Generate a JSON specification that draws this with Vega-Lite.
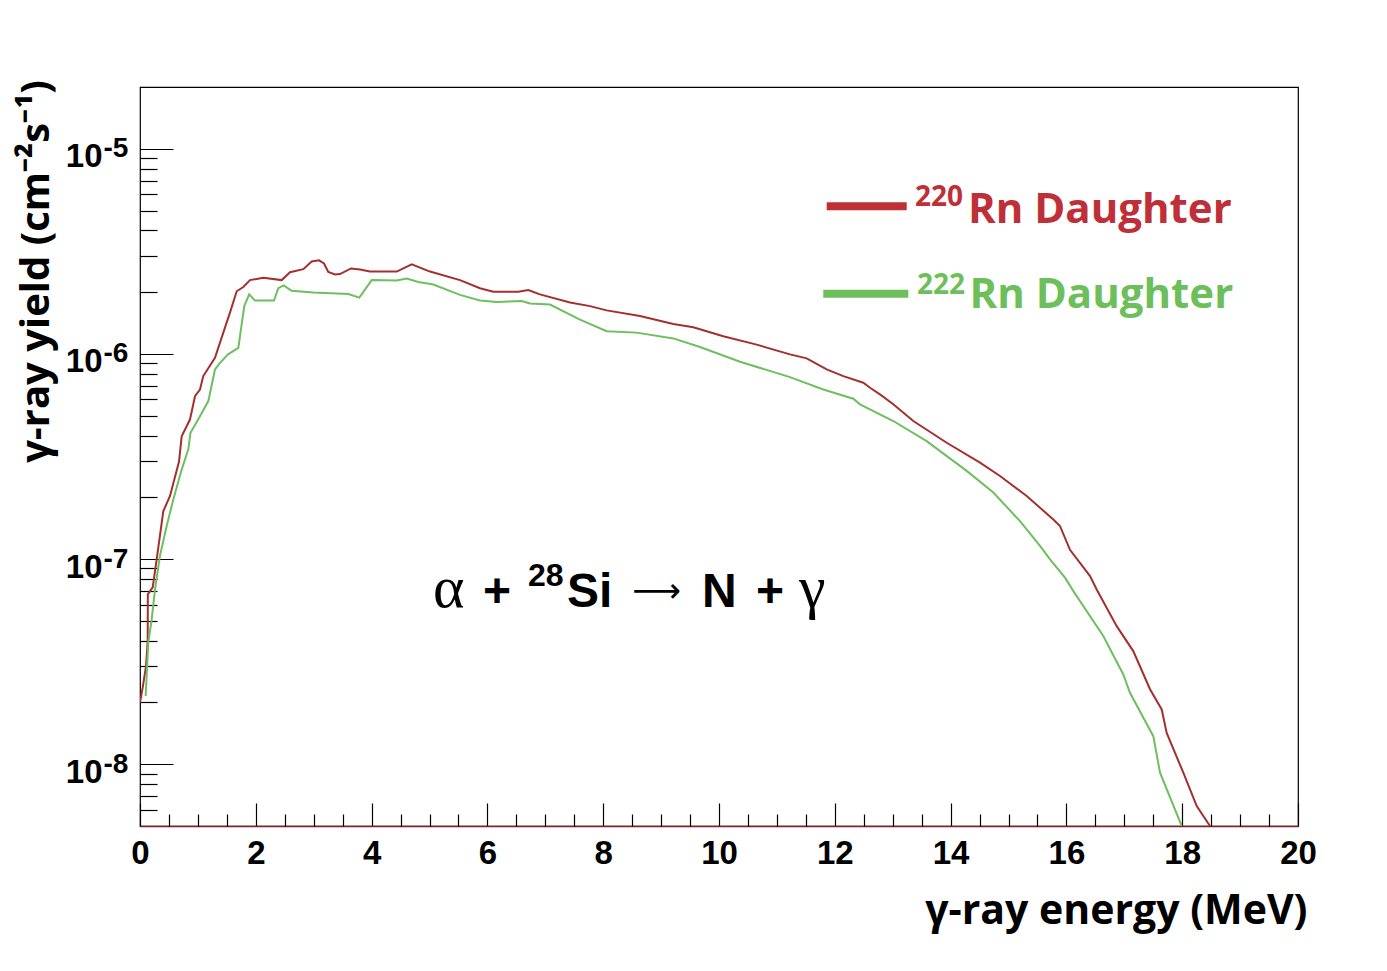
{
  "$schema": "https://vega.github.io/schema/vega-lite/v6.json",
  "width": 1158,
  "height": 739,
  "autosize": "none",
  "padding": {"left": 140, "top": 87, "right": 89, "bottom": 145},
  "background": "white",
  "config": {
    "view": {"stroke": "black", "strokeWidth": 1.2},
    "axis": {"grid": false, "tickColor": "black", "tickWidth": 1.2}
  },
  "datasets": {
    "curves": [
      {"series": "220Rn", "energy": 0, "yield": 2.00e-8},
      {"series": "220Rn", "energy": 0.047, "yield": 2.37e-8},
      {"series": "220Rn", "energy": 0.104, "yield": 3.01e-8},
      {"series": "220Rn", "energy": 0.133, "yield": 3.98e-8},
      {"series": "220Rn", "energy": 0.135, "yield": 6.73e-8},
      {"series": "220Rn", "energy": 0.219, "yield": 7.28e-8},
      {"series": "220Rn", "energy": 0.288, "yield": 9.97e-8},
      {"series": "220Rn", "energy": 0.402, "yield": 1.71e-7},
      {"series": "220Rn", "energy": 0.518, "yield": 2.03e-7},
      {"series": "220Rn", "energy": 0.674, "yield": 2.99e-7},
      {"series": "220Rn", "energy": 0.720, "yield": 3.97e-7},
      {"series": "220Rn", "energy": 0.864, "yield": 4.80e-7},
      {"series": "220Rn", "energy": 0.950, "yield": 6.22e-7},
      {"series": "220Rn", "energy": 1.036, "yield": 6.71e-7},
      {"series": "220Rn", "energy": 1.093, "yield": 7.80e-7},
      {"series": "220Rn", "energy": 1.295, "yield": 9.58e-7},
      {"series": "220Rn", "energy": 1.439, "yield": 1.27e-6},
      {"series": "220Rn", "energy": 1.554, "yield": 1.59e-6},
      {"series": "220Rn", "energy": 1.670, "yield": 2.02e-6},
      {"series": "220Rn", "energy": 1.784, "yield": 2.12e-6},
      {"series": "220Rn", "energy": 1.900, "yield": 2.29e-6},
      {"series": "220Rn", "energy": 2.130, "yield": 2.35e-6},
      {"series": "220Rn", "energy": 2.447, "yield": 2.29e-6},
      {"series": "220Rn", "energy": 2.591, "yield": 2.50e-6},
      {"series": "220Rn", "energy": 2.820, "yield": 2.59e-6},
      {"series": "220Rn", "energy": 2.965, "yield": 2.82e-6},
      {"series": "220Rn", "energy": 3.092, "yield": 2.86e-6},
      {"series": "220Rn", "energy": 3.178, "yield": 2.76e-6},
      {"series": "220Rn", "energy": 3.252, "yield": 2.51e-6},
      {"series": "220Rn", "energy": 3.368, "yield": 2.44e-6},
      {"series": "220Rn", "energy": 3.454, "yield": 2.45e-6},
      {"series": "220Rn", "energy": 3.644, "yield": 2.61e-6},
      {"series": "220Rn", "energy": 3.800, "yield": 2.58e-6},
      {"series": "220Rn", "energy": 3.972, "yield": 2.52e-6},
      {"series": "220Rn", "energy": 4.434, "yield": 2.52e-6},
      {"series": "220Rn", "energy": 4.693, "yield": 2.73e-6},
      {"series": "220Rn", "energy": 5.009, "yield": 2.52e-6},
      {"series": "220Rn", "energy": 5.527, "yield": 2.29e-6},
      {"series": "220Rn", "energy": 5.872, "yield": 2.09e-6},
      {"series": "220Rn", "energy": 6.102, "yield": 2.01e-6},
      {"series": "220Rn", "energy": 6.534, "yield": 2.01e-6},
      {"series": "220Rn", "energy": 6.706, "yield": 2.05e-6},
      {"series": "220Rn", "energy": 6.908, "yield": 1.95e-6},
      {"series": "220Rn", "energy": 7.427, "yield": 1.78e-6},
      {"series": "220Rn", "energy": 7.772, "yield": 1.71e-6},
      {"series": "220Rn", "energy": 8.060, "yield": 1.63e-6},
      {"series": "220Rn", "energy": 8.636, "yield": 1.53e-6},
      {"series": "220Rn", "energy": 9.211, "yield": 1.40e-6},
      {"series": "220Rn", "energy": 9.556, "yield": 1.35e-6},
      {"series": "220Rn", "energy": 10.074, "yield": 1.22e-6},
      {"series": "220Rn", "energy": 10.651, "yield": 1.11e-6},
      {"series": "220Rn", "energy": 11.226, "yield": 9.95e-7},
      {"series": "220Rn", "energy": 11.515, "yield": 9.51e-7},
      {"series": "220Rn", "energy": 11.860, "yield": 8.40e-7},
      {"series": "220Rn", "energy": 12.147, "yield": 7.79e-7},
      {"series": "220Rn", "energy": 12.492, "yield": 7.24e-7},
      {"series": "220Rn", "energy": 12.608, "yield": 6.84e-7},
      {"series": "220Rn", "energy": 12.781, "yield": 6.35e-7},
      {"series": "220Rn", "energy": 13.010, "yield": 5.68e-7},
      {"series": "220Rn", "energy": 13.356, "yield": 4.71e-7},
      {"series": "220Rn", "energy": 13.933, "yield": 3.69e-7},
      {"series": "220Rn", "energy": 14.508, "yield": 2.95e-7},
      {"series": "220Rn", "energy": 14.853, "yield": 2.54e-7},
      {"series": "220Rn", "energy": 15.314, "yield": 2.03e-7},
      {"series": "220Rn", "energy": 15.774, "yield": 1.56e-7},
      {"series": "220Rn", "energy": 15.889, "yield": 1.45e-7},
      {"series": "220Rn", "energy": 16.062, "yield": 1.11e-7},
      {"series": "220Rn", "energy": 16.408, "yield": 8.26e-8},
      {"series": "220Rn", "energy": 16.523, "yield": 7.11e-8},
      {"series": "220Rn", "energy": 16.869, "yield": 4.71e-8},
      {"series": "220Rn", "energy": 17.155, "yield": 3.56e-8},
      {"series": "220Rn", "energy": 17.444, "yield": 2.32e-8},
      {"series": "220Rn", "energy": 17.646, "yield": 1.85e-8},
      {"series": "220Rn", "energy": 17.732, "yield": 1.42e-8},
      {"series": "220Rn", "energy": 18.019, "yield": 9.10e-9},
      {"series": "220Rn", "energy": 18.251, "yield": 6.25e-9},
      {"series": "220Rn", "energy": 18.480, "yield": 5.0e-9},
      {"series": "222Rn", "energy": 0.098, "yield": 2.15e-8},
      {"series": "222Rn", "energy": 0.143, "yield": 3.92e-8},
      {"series": "222Rn", "energy": 0.202, "yield": 5.08e-8},
      {"series": "222Rn", "energy": 0.259, "yield": 7.11e-8},
      {"series": "222Rn", "energy": 0.345, "yield": 1.04e-7},
      {"series": "222Rn", "energy": 0.461, "yield": 1.45e-7},
      {"series": "222Rn", "energy": 0.575, "yield": 1.95e-7},
      {"series": "222Rn", "energy": 0.720, "yield": 2.73e-7},
      {"series": "222Rn", "energy": 0.834, "yield": 3.43e-7},
      {"series": "222Rn", "energy": 0.872, "yield": 4.13e-7},
      {"series": "222Rn", "energy": 1.007, "yield": 4.80e-7},
      {"series": "222Rn", "energy": 1.180, "yield": 5.89e-7},
      {"series": "222Rn", "energy": 1.295, "yield": 8.40e-7},
      {"series": "222Rn", "energy": 1.382, "yield": 9.05e-7},
      {"series": "222Rn", "energy": 1.520, "yield": 9.95e-7},
      {"series": "222Rn", "energy": 1.698, "yield": 1.07e-6},
      {"series": "222Rn", "energy": 1.801, "yield": 1.71e-6},
      {"series": "222Rn", "energy": 1.886, "yield": 1.95e-6},
      {"series": "222Rn", "energy": 1.986, "yield": 1.82e-6},
      {"series": "222Rn", "energy": 2.314, "yield": 1.82e-6},
      {"series": "222Rn", "energy": 2.389, "yield": 2.09e-6},
      {"series": "222Rn", "energy": 2.482, "yield": 2.16e-6},
      {"series": "222Rn", "energy": 2.620, "yield": 2.03e-6},
      {"series": "222Rn", "energy": 2.993, "yield": 1.99e-6},
      {"series": "222Rn", "energy": 3.598, "yield": 1.96e-6},
      {"series": "222Rn", "energy": 3.788, "yield": 1.88e-6},
      {"series": "222Rn", "energy": 4.002, "yield": 2.29e-6},
      {"series": "222Rn", "energy": 4.434, "yield": 2.28e-6},
      {"series": "222Rn", "energy": 4.606, "yield": 2.33e-6},
      {"series": "222Rn", "energy": 4.807, "yield": 2.24e-6},
      {"series": "222Rn", "energy": 5.066, "yield": 2.18e-6},
      {"series": "222Rn", "energy": 5.527, "yield": 1.94e-6},
      {"series": "222Rn", "energy": 5.872, "yield": 1.82e-6},
      {"series": "222Rn", "energy": 6.161, "yield": 1.79e-6},
      {"series": "222Rn", "energy": 6.592, "yield": 1.81e-6},
      {"series": "222Rn", "energy": 6.736, "yield": 1.76e-6},
      {"series": "222Rn", "energy": 7.081, "yield": 1.74e-6},
      {"series": "222Rn", "energy": 7.599, "yield": 1.47e-6},
      {"series": "222Rn", "energy": 8.060, "yield": 1.29e-6},
      {"series": "222Rn", "energy": 8.579, "yield": 1.27e-6},
      {"series": "222Rn", "energy": 9.211, "yield": 1.19e-6},
      {"series": "222Rn", "energy": 9.672, "yield": 1.08e-6},
      {"series": "222Rn", "energy": 10.363, "yield": 9.16e-7},
      {"series": "222Rn", "energy": 11.226, "yield": 7.71e-7},
      {"series": "222Rn", "energy": 11.801, "yield": 6.71e-7},
      {"series": "222Rn", "energy": 12.320, "yield": 6.05e-7},
      {"series": "222Rn", "energy": 12.435, "yield": 5.68e-7},
      {"series": "222Rn", "energy": 13.010, "yield": 4.71e-7},
      {"series": "222Rn", "energy": 13.587, "yield": 3.76e-7},
      {"series": "222Rn", "energy": 14.278, "yield": 2.69e-7},
      {"series": "222Rn", "energy": 14.738, "yield": 2.11e-7},
      {"series": "222Rn", "energy": 15.199, "yield": 1.53e-7},
      {"series": "222Rn", "energy": 15.544, "yield": 1.16e-7},
      {"series": "222Rn", "energy": 15.717, "yield": 9.97e-8},
      {"series": "222Rn", "energy": 15.976, "yield": 8.12e-8},
      {"series": "222Rn", "energy": 16.120, "yield": 6.98e-8},
      {"series": "222Rn", "energy": 16.637, "yield": 4.22e-8},
      {"series": "222Rn", "energy": 16.983, "yield": 2.74e-8},
      {"series": "222Rn", "energy": 17.098, "yield": 2.23e-8},
      {"series": "222Rn", "energy": 17.501, "yield": 1.37e-8},
      {"series": "222Rn", "energy": 17.617, "yield": 9.10e-9},
      {"series": "222Rn", "energy": 17.991, "yield": 5.0e-9}
    ],
    "keyLines": [
      {"series": "220Rn", "energy": 11.860, "yield": 5.25e-6},
      {"series": "220Rn", "energy": 13.242, "yield": 5.25e-6},
      {"series": "222Rn", "energy": 11.801, "yield": 1.965e-6},
      {"series": "222Rn", "energy": 13.270, "yield": 1.965e-6}
    ],
    "keyNames": [
      {"series": "220Rn", "label": "Rn Daughter", "energy": 14.300, "yield": 4.325e-6},
      {"series": "222Rn", "label": "Rn Daughter", "energy": 14.326, "yield": 1.68e-6}
    ],
    "keyMass": [
      {"series": "220Rn", "label": "220", "energy": 13.385, "yield": 5.25e-6},
      {"series": "222Rn", "label": "222", "energy": 13.420, "yield": 1.95e-6}
    ],
    "eqSans": [
      {"label": "+", "energy": 5.924, "yield": 5.815e-8},
      {"label": "Si", "energy": 7.375, "yield": 5.815e-8},
      {"label": "N", "energy": 9.707, "yield": 5.815e-8},
      {"label": "+", "energy": 10.639, "yield": 5.815e-8}
    ],
    "eqSerif": [
      {"label": "α", "energy": 5.061, "yield": 5.815e-8},
      {"label": "γ", "energy": 11.382, "yield": 5.815e-8}
    ],
    "eqArrow": [
      {"label": "⟶", "energy": 8.500, "yield": 6.2e-8}
    ],
    "eqMass": [
      {"label": "28", "energy": 6.701, "yield": 7.385e-8}
    ]
  },
  "resolve": {
    "axis": {"x": "independent", "y": "independent"},
    "scale": {"color": "independent"}
  },
  "layer": [
    {
      "data": {"name": "curves"},
      "mark": {"type": "line", "strokeWidth": 2, "clip": true},
      "encoding": {
        "x": {
          "field": "energy", "type": "quantitative",
          "scale": {"domain": [0, 20], "nice": false, "zero": false},
          "axis": {
            "orient": "bottom", "values": [0, 2, 4, 6, 8, 10, 12, 14, 16, 18, 20],
            "tickSize": -23, "labels": false, "domain": true,
            "domainColor": "#7a2626", "domainWidth": 1.5, "title": null
          }
        },
        "y": {
          "field": "yield", "type": "quantitative",
          "scale": {"type": "log", "domain": [5e-9, 2e-5], "nice": false},
          "axis": {
            "orient": "left", "values": [1e-8, 1e-7, 1e-6, 1e-5],
            "tickSize": -33, "labels": false, "domain": false, "title": null
          }
        },
        "color": {
          "field": "series", "type": "nominal",
          "scale": {"domain": ["220Rn", "222Rn"], "range": ["#a3302f", "#6dbf5f"]},
          "legend": null
        }
      }
    },
    {
      "data": {"name": "keyLines"},
      "mark": {"type": "line", "strokeWidth": 8, "strokeCap": "butt"},
      "encoding": {
        "x": {
          "field": "energy", "type": "quantitative",
          "axis": {
            "orient": "bottom",
            "values": [0.5, 1, 1.5, 2.5, 3, 3.5, 4.5, 5, 5.5, 6.5, 7, 7.5, 8.5, 9, 9.5, 10.5, 11, 11.5, 12.5, 13, 13.5, 14.5, 15, 15.5, 16.5, 17, 17.5, 18.5, 19, 19.5],
            "tickSize": -12, "labels": false, "domain": false, "title": null
          }
        },
        "y": {
          "field": "yield", "type": "quantitative",
          "axis": {
            "orient": "left",
            "values": [6e-9, 7e-9, 8e-9, 9e-9, 2e-8, 3e-8, 4e-8, 5e-8, 6e-8, 7e-8, 8e-8, 9e-8, 2e-7, 3e-7, 4e-7, 5e-7, 6e-7, 7e-7, 8e-7, 9e-7, 2e-6, 3e-6, 4e-6, 5e-6, 6e-6, 7e-6, 8e-6, 9e-6],
            "tickSize": -17, "labels": false, "domain": false, "title": null
          }
        },
        "detail": {"field": "series"},
        "color": {
          "field": "series", "type": "nominal",
          "scale": {"domain": ["220Rn", "222Rn"], "range": ["#bf2f38", "#6cbf5b"]},
          "legend": null
        }
      }
    },
    {
      "data": {"name": "keyNames"},
      "mark": {"type": "text", "font": "Open Sans", "fontWeight": "bold", "fontSize": 42, "align": "left", "baseline": "alphabetic"},
      "encoding": {
        "x": {
          "field": "energy", "type": "quantitative",
          "axis": {
            "orient": "bottom", "values": [0, 2, 4, 6, 8, 10, 12, 14, 16, 18, 20],
            "ticks": false, "domain": false, "labelFlush": false, "labelOverlap": false,
            "labelFont": "Liberation Sans", "labelFontWeight": "bold", "labelFontSize": 33,
            "labelColor": "black", "labelBaseline": "alphabetic", "labelPadding": 37,
            "title": "γ-ray energy (MeV)", "titleFont": "Open Sans", "titleFontWeight": "bold",
            "titleFontSize": 41, "titleColor": "black", "titleX": 1167, "titleY": 97,
            "titleAlign": "right", "titleBaseline": "alphabetic"
          }
        },
        "y": {
          "field": "yield", "type": "quantitative",
          "axis": {
            "orient": "left", "values": [1e-8, 1e-7, 1e-6, 1e-5],
            "ticks": false, "domain": false, "labelFlush": false, "labelOverlap": false,
            "labelExpr": "'10'", "labelAlign": "right", "labelBaseline": "alphabetic",
            "labelPadding": 38, "labelOffset": 18,
            "labelFont": "Liberation Sans", "labelFontWeight": "bold", "labelFontSize": 33, "labelColor": "black",
            "title": "γ-ray yield (cm⁻²s⁻¹)", "titleFont": "Open Sans", "titleFontWeight": "bold",
            "titleFontSize": 40, "titleColor": "black", "titleAngle": 270,
            "titleX": -92, "titleY": 184, "titleAlign": "center", "titleBaseline": "alphabetic"
          }
        },
        "text": {"field": "label"},
        "color": {
          "field": "series", "type": "nominal",
          "scale": {"domain": ["220Rn", "222Rn"], "range": ["#bf2f38", "#6cbf5b"]},
          "legend": null
        }
      }
    },
    {
      "data": {"name": "keyMass"},
      "mark": {"type": "text", "font": "Open Sans", "fontWeight": "bold", "fontSize": 28, "align": "left", "baseline": "alphabetic"},
      "encoding": {
        "x": {"field": "energy", "type": "quantitative", "axis": null},
        "y": {
          "field": "yield", "type": "quantitative",
          "axis": {
            "orient": "left", "values": [1e-8, 1e-7, 1e-6, 1e-5],
            "ticks": false, "domain": false, "labelFlush": false, "labelOverlap": false,
            "labelExpr": "'' + round(log(datum.value) / LN10)", "labelAlign": "left",
            "labelBaseline": "alphabetic", "labelPadding": 37, "labelOffset": 8,
            "labelFont": "Liberation Sans", "labelFontWeight": "bold", "labelFontSize": 28,
            "labelColor": "black", "title": null
          }
        },
        "text": {"field": "label"},
        "color": {
          "field": "series", "type": "nominal",
          "scale": {"domain": ["220Rn", "222Rn"], "range": ["#bf2f38", "#6cbf5b"]},
          "legend": null
        }
      }
    },
    {
      "data": {"name": "eqSans"},
      "mark": {"type": "text", "font": "Liberation Sans", "fontWeight": "bold", "fontSize": 48, "align": "left", "baseline": "alphabetic", "color": "black"},
      "encoding": {
        "x": {"field": "energy", "type": "quantitative", "axis": null},
        "y": {"field": "yield", "type": "quantitative", "axis": null},
        "text": {"field": "label"}
      }
    },
    {
      "data": {"name": "eqSerif"},
      "mark": {"type": "text", "font": "Liberation Serif", "fontSize": 60, "align": "left", "baseline": "alphabetic", "color": "black"},
      "encoding": {
        "x": {"field": "energy", "type": "quantitative", "axis": null},
        "y": {"field": "yield", "type": "quantitative", "axis": null},
        "text": {"field": "label"}
      }
    },
    {
      "data": {"name": "eqArrow"},
      "mark": {"type": "text", "font": "DejaVu Sans", "fontSize": 34, "align": "left", "baseline": "alphabetic", "color": "black"},
      "encoding": {
        "x": {"field": "energy", "type": "quantitative", "axis": null},
        "y": {"field": "yield", "type": "quantitative", "axis": null},
        "text": {"field": "label"}
      }
    },
    {
      "data": {"name": "eqMass"},
      "mark": {"type": "text", "font": "Liberation Sans", "fontWeight": "bold", "fontSize": 32, "align": "left", "baseline": "alphabetic", "color": "black"},
      "encoding": {
        "x": {"field": "energy", "type": "quantitative", "axis": null},
        "y": {"field": "yield", "type": "quantitative", "axis": null},
        "text": {"field": "label"}
      }
    }
  ]
}
